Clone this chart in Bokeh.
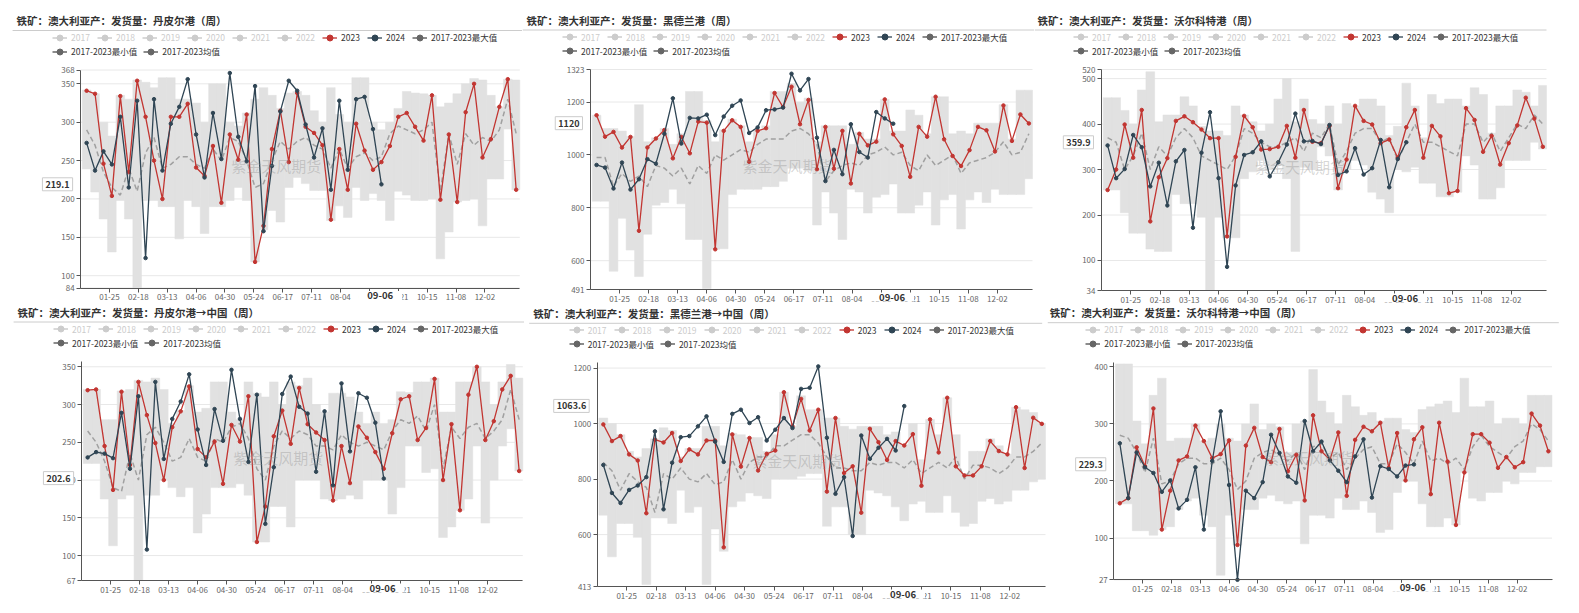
import numpy as np
import pandas as pd
from bokeh.plotting import figure
from bokeh.layouts import column, row
from bokeh.models import Range1d, FixedTicker, Label, Legend, LegendItem, Arrow, ColumnDataSource
from bokeh.embed import file_html
from bokeh.resources import INLINE

FONT = "Noto Sans CJK SC"
RED = "#c23531"
NAVY = "#2f4554"
BAND = "#e1e1e1"
MEAN = "#a0a0a0"
STATICON = "#666666"
INACTIVE = "#cccccc"

# ---------------- shared axis / legend data ----------------
all_days = pd.date_range("2024-01-01", "2024-12-31").strftime("%m-%d").tolist()
week_dates = pd.date_range("2024-01-06", periods=52, freq="7D").strftime("%m-%d").tolist()
tick_labels = ["01-25", "02-18", "03-13", "04-06", "04-30", "05-24", "06-17", "07-11",
               "08-04", "08-28", "09-21", "10-15", "11-08", "12-02"]
pointer_date = "09-06"
legend_years = ["2017", "2018", "2019", "2020", "2021", "2022"]
legend_main = ["2023", "2024"]
legend_stats = ["2017-2023最大值", "2017-2023最小值", "2017-2023均值"]
watermark = "紫金天风期货"

# ---------------- panel 1: 丹皮尔港 ----------------
p1_title = "铁矿：澳大利亚产：发货量：丹皮尔港（周）"
p1_2023 = [341, 337, 246, 204, 334, 235, 354, 307, 250, 200, 307, 307, 324, 241, 230, 269, 195, 284, 251, 310,
           118, 165, 265, 315, 248, 338, 294, 286, 270, 173, 265, 212, 298, 263, 238, 248, 269, 307, 312, 294,
           276, 335, 199, 284, 196, 313, 350, 254, 278, 320, 356, 212]
p1_2024 = [273, 237, 262, 245, 307, 215, 328, 123, 330, 237, 298, 320, 356, 284, 228, 312, 252, 364, 281, 249,
           347, 158, 243, 314, 354, 341, 297, 254, 292, 212, 328, 238, 330, 333, 291, 219]
p1_max = [342, 337, 300, 282, 335, 330, 355, 352, 345, 358, 358, 330, 330, 325, 300, 350, 350, 300, 295, 312,
          330, 345, 335, 318, 338, 340, 335, 315, 300, 345, 310, 300, 358, 358, 300, 290, 300, 318, 340, 338,
          337, 335, 320, 325, 337, 350, 357, 355, 335, 320, 356, 355]
p1_min = [239, 209, 174, 131, 198, 174, 84, 198, 198, 190, 190, 148, 198, 190, 155, 190, 190, 198, 215, 198,
          118, 160, 185, 170, 215, 228, 220, 211, 211, 172, 191, 176, 215, 198, 207, 198, 172, 210, 205, 198,
          198, 200, 122, 157, 196, 198, 200, 165, 226, 226, 291, 212]
p1_mean = [290, 270, 235, 215, 205, 240, 210, 260, 280, 240, 245, 255, 255, 245, 240, 265, 250, 280, 275, 250,
           215, 220, 250, 275, 265, 275, 280, 270, 265, 240, 265, 240, 255, 260, 250, 255, 285, 295, 290, 285,
           290, 300, 210, 285, 245, 285, 270, 280, 275, 290, 330, 285]
p1_yticks = [84, 100, 150, 200, 250, 300, 350, 368]
p1_pointer = 219.1

# ---------------- panel 2: 黑德兰港 ----------------
p2_title = "铁矿：澳大利亚产：发货量：黑德兰港（周）"
p2_2023 = [1150, 1069, 1087, 1028, 1068, 713, 1028, 1062, 1094, 987, 1068, 1006, 1126, 1122, 643, 1091, 1131,
           1106, 974, 1091, 1101, 1234, 1181, 1258, 1116, 1208, 946, 1106, 948, 1091, 892, 1080, 1036, 1050,
           1210, 1078, 1034, 917, 1106, 1069, 1220, 1059, 996, 958, 1018, 1106, 1093, 1013, 1187, 1053, 1153, 1119]
p2_2024 = [962, 952, 873, 971, 869, 908, 984, 967, 1080, 1214, 1043, 1140, 1138, 1152, 1075, 1145, 1186, 1206,
           1083, 1104, 1169, 1172, 1179, 1307, 1244, 1287, 1065, 901, 1019, 927, 1116, 1011, 990, 1162, 1138, 1118]
p2_max = [1150, 1100, 1100, 1090, 1070, 1190, 1050, 1065, 1100, 1040, 1080, 1240, 1240, 1130, 1050, 1095, 1135,
          1110, 1050, 1095, 1110, 1240, 1240, 1270, 1200, 1215, 1050, 1110, 1110, 1110, 1040, 1085, 1060, 1060,
          1210, 1090, 1090, 1170, 1150, 1080, 1220, 1220, 1080, 1090, 1080, 1120, 1120, 1120, 1190, 1060, 1245, 1245]
p2_min = [825, 825, 560, 760, 640, 540, 700, 810, 820, 870, 815, 680, 680, 495, 643, 645, 850, 870, 870, 870,
          880, 880, 900, 950, 950, 940, 735, 860, 780, 680, 870, 860, 780, 840, 850, 890, 780, 780, 810, 860,
          735, 830, 850, 720, 830, 860, 820, 870, 850, 850, 850, 910]
p2_mean = [990, 990, 880, 930, 900, 920, 880, 960, 950, 920, 950, 890, 960, 930, 1000, 980, 1000, 1020, 1010, 1040,
           1060, 1060, 1060, 1090, 1100, 1080, 1040, 900, 940, 960, 970, 960, 1000, 1010, 1030, 1000, 1010, 960,
           940, 1000, 960, 980, 1000, 930, 970, 980, 990, 1010, 1050, 1000, 1010, 1080]
p2_yticks = [491, 600, 800, 1000, 1200, 1323]
p2_pointer = 1120

# ---------------- panel 3: 沃尔科特港 ----------------
p3_title = "铁矿：澳大利亚产：发货量：沃尔科特港（周）"
p3_2023 = [255, 300, 399, 326, 431, 186, 283, 325, 407, 417, 404, 388, 369, 369, 153, 328, 418, 393, 344, 345,
           350, 396, 326, 431, 361, 358, 396, 259, 322, 440, 407, 399, 358, 366, 326, 393, 431, 326, 396, 373,
           248, 253, 435, 409, 339, 374, 311, 358, 397, 458, 412, 350]
p3_2024 = [353, 281, 301, 376, 349, 263, 315, 221, 318, 343, 172, 337, 426, 281, 86, 265, 332, 338, 362, 285,
           316, 355, 423, 362, 363, 356, 398, 288, 296, 347, 289, 303, 365, 261, 323, 360]
p3_max = [458, 458, 430, 400, 475, 515, 405, 420, 420, 460, 440, 395, 385, 385, 375, 440, 420, 405, 385, 400,
          455, 500, 405, 455, 410, 400, 440, 400, 445, 440, 455, 455, 440, 375, 395, 490, 440, 370, 465, 445,
          455, 455, 440, 480, 465, 380, 440, 440, 475, 470, 440, 485]
p3_min = [255, 255, 205, 160, 160, 125, 120, 120, 245, 225, 225, 195, 34, 195, 150, 150, 280, 295, 320, 300,
          310, 280, 120, 305, 300, 350, 330, 255, 300, 320, 310, 250, 235, 205, 300, 295, 305, 270, 270, 240,
          240, 250, 330, 310, 235, 235, 260, 320, 320, 320, 360, 345]
p3_mean = [370, 360, 300, 330, 380, 300, 350, 330, 370, 390, 370, 330, 320, 310, 300, 330, 390, 380, 360, 350,
           350, 360, 370, 340, 380, 370, 400, 310, 340, 380, 390, 390, 360, 370, 320, 360, 400, 360, 360, 350,
           340, 330, 400, 400, 360, 380, 340, 370, 400, 390, 420, 400]
p3_yticks = [34, 100, 200, 300, 400, 500, 520]
p3_pointer = 359.9

# ---------------- panel 4: 丹皮尔港→中国 ----------------
p4_title = "铁矿：澳大利亚产：发货量：丹皮尔港→中国（周）"
p4_2023 = [319, 320, 245, 187, 317, 220, 330, 286, 249, 200, 270, 291, 324, 241, 230, 251, 195, 273, 251, 311,
           118, 165, 258, 292, 248, 322, 274, 263, 253, 173, 245, 196, 271, 256, 237, 215, 262, 307, 311, 253,
           269, 334, 200, 274, 160, 313, 350, 253, 278, 320, 338, 212]
p4_2024 = [230, 237, 235, 229, 289, 215, 311, 108, 330, 228, 281, 304, 340, 267, 220, 294, 252, 346, 281, 224,
           313, 142, 217, 314, 337, 297, 288, 211, 291, 193, 328, 238, 315, 309, 276, 202]
p4_max = [320, 320, 280, 280, 318, 320, 332, 330, 335, 320, 275, 292, 325, 290, 295, 330, 330, 290, 280, 330,
          315, 310, 330, 300, 330, 325, 335, 300, 290, 315, 315, 310, 290, 275, 290, 275, 280, 317, 316, 330,
          330, 335, 290, 290, 330, 330, 350, 330, 300, 330, 353, 335]
p4_min = [222, 222, 175, 113, 175, 180, 67, 180, 180, 200, 190, 178, 190, 130, 155, 190, 190, 190, 195, 180,
          118, 118, 165, 165, 138, 200, 200, 200, 175, 173, 175, 180, 175, 200, 200, 200, 155, 190, 245, 245,
          210, 215, 124, 138, 160, 175, 245, 143, 200, 245, 268, 212]
p4_mean = [265, 250, 225, 190, 185, 235, 200, 260, 270, 250, 225, 230, 255, 230, 225, 255, 250, 270, 275, 255,
           215, 200, 245, 265, 255, 265, 260, 245, 245, 240, 260, 250, 245, 250, 245, 240, 265, 280, 275, 285,
           265, 300, 215, 270, 255, 270, 275, 255, 265, 280, 320, 280]
p4_yticks = [67, 100, 150, 200, 250, 300, 350]
p4_pointer = 202.6

# ---------------- panel 5: 黑德兰港→中国 ----------------
p5_title = "铁矿：澳大利亚产：发货量：黑德兰港→中国（周）"
p5_2023 = [997, 937, 955, 889, 867, 677, 942, 932, 966, 865, 907, 889, 939, 939, 554, 961, 845, 948, 831, 891,
           903, 1113, 990, 1089, 975, 1050, 755, 1020, 822, 846, 679, 981, 933, 869, 937, 921, 962, 776, 1015, 896,
           1093, 846, 813, 813, 846, 937, 901, 889, 1059, 840, 1021, 999]
p5_2024 = [851, 750, 714, 761, 777, 807, 972, 691, 859, 951, 955, 990, 1026, 935, 862, 1035, 1050, 1002, 1023,
           939, 978, 1020, 984, 1125, 1129, 1206, 949, 747, 807, 595, 957, 873, 913, 945, 903, 1063]
p5_max = [1020, 1000, 960, 900, 880, 910, 945, 985, 975, 880, 910, 910, 990, 990, 920, 965, 960, 950, 950, 900,
          960, 1113, 990, 1100, 1050, 1050, 1020, 1020, 990, 980, 990, 990, 990, 960, 970, 925, 1000, 870, 1015,
          960, 1093, 960, 820, 900, 900, 945, 920, 890, 1059, 1050, 1040, 1000]
p5_min = [670, 520, 640, 640, 590, 420, 660, 660, 640, 760, 680, 700, 420, 620, 540, 700, 720, 750, 740, 730,
          800, 800, 800, 810, 820, 820, 630, 700, 700, 600, 600, 760, 750, 740, 700, 650, 710, 720, 680, 680,
          740, 680, 630, 640, 720, 730, 710, 720, 760, 760, 790, 800]
p5_mean = [860, 830, 760, 820, 790, 770, 680, 820, 800, 840, 800, 790, 820, 780, 790, 870, 800, 860, 880, 880,
           920, 920, 940, 960, 960, 930, 880, 840, 840, 830, 830, 860, 850, 860, 860, 840, 870, 820, 840, 860,
           840, 880, 800, 850, 850, 840, 820, 840, 880, 880, 900, 930]
p5_yticks = [413, 600, 800, 1000, 1200]
p5_pointer = 1063.6

# ---------------- panel 6: 沃尔科特港→中国 ----------------
p6_title = "铁矿：澳大利亚产：发货量：沃尔科特港→中国（周）"
p6_2023 = [161, 170, 259, 226, 327, 115, 183, 236, 243, 297, 270, 240, 247, 271, 88, 262, 293, 242, 233, 291,
           217, 246, 166, 315, 252, 237, 285, 174, 272, 295, 287, 302, 223, 284, 201, 273, 294, 177, 302, 234,
           123, 215, 282, 282, 267, 223, 242, 224, 233, 318, 297, 252]
p6_2024 = [266, 170, 250, 224, 214, 181, 201, 152, 167, 224, 115, 235, 322, 193, 27, 183, 170, 198, 281, 249,
           208, 197, 305, 252, 269, 236, 218, 198, 243, 273, 171, 226, 221, 208, 227, 229]
p6_max = [405, 405, 305, 265, 350, 380, 270, 275, 275, 300, 270, 275, 300, 275, 270, 300, 335, 290, 300, 295,
          250, 300, 305, 395, 340, 320, 300, 350, 330, 315, 320, 305, 310, 310, 290, 285, 325, 330, 335, 340,
          320, 380, 330, 330, 340, 300, 310, 310, 300, 350, 350, 350]
p6_min = [160, 160, 113, 113, 105, 115, 120, 150, 165, 170, 140, 120, 35, 140, 88, 150, 150, 170, 175, 165,
          160, 165, 90, 140, 140, 135, 170, 150, 150, 165, 145, 110, 115, 180, 200, 200, 160, 120, 120, 135,
          123, 215, 170, 165, 180, 180, 200, 195, 215, 215, 225, 225]
p6_mean = [280, 275, 250, 215, 275, 195, 200, 230, 240, 240, 230, 230, 240, 220, 185, 200, 240, 250, 255, 245,
           235, 250, 220, 260, 265, 240, 250, 220, 240, 255, 260, 230, 230, 265, 250, 230, 270, 235, 240, 230,
           240, 220, 260, 280, 260, 250, 240, 260, 270, 300, 290, 270]
p6_yticks = [27, 100, 200, 300, 400]
p6_pointer = 229.3

week_x = np.array([all_days.index(d) for d in week_dates], dtype=float)
tick_x = [all_days.index(d) for d in tick_labels]
pointer_x = all_days.index(pointer_date)
X_LO, X_HI = 0, 365


def fmt(v):
    s = ("%.1f" % v)
    return s[:-2] if s.endswith(".0") else s


def make_panel(title, v23, v24, vmax, vmin, vmean, yticks, yrange, ptr, W, H, bl, br, bt, bb):
    ylo, yhi = yrange
    fw = W - bl - br          # plot-area size in px
    fh = H - bt - bb
    ppx = fw / (X_HI - X_LO)
    ppy = fh / (yhi - ylo)
    # the frame is the whole figure; the axes are pinned to the plot-area edges
    p = figure(width=W, height=H,
               x_range=Range1d(X_LO - bl / ppx, X_HI + br / ppx),
               y_range=Range1d(ylo - bb / ppy, yhi + bt / ppy),
               output_backend="svg", toolbar_location=None,
               min_border_left=0, min_border_right=0, min_border_top=0, min_border_bottom=0)
    p.outline_line_color = None
    p.xgrid.visible = False
    p.ygrid.visible = False
    for ax in (p.xaxis[0], p.yaxis[0]):
        ax.axis_line_color = "#555555"
        ax.major_tick_line_color = "#555555"
        ax.major_tick_out = 4
        ax.major_tick_in = 0
        ax.minor_tick_out = 0
        ax.minor_tick_in = 0
        ax.major_label_text_font = FONT
        ax.major_label_text_font_size = "8px"
        ax.major_label_text_color = "#666666"
        ax.major_label_standoff = 2
    p.yaxis.ticker = FixedTicker(ticks=yticks)
    p.yaxis.fixed_location = X_LO
    p.yaxis.bounds = (ylo, yhi)
    p.xaxis.ticker = FixedTicker(ticks=tick_x)
    p.xaxis.major_label_overrides = {x: lab for x, lab in zip(tick_x, tick_labels)}
    p.xaxis.fixed_location = ylo
    p.xaxis.bounds = (X_LO, X_HI)

    # horizontal grid lines at the y ticks, across the plot area only
    p.segment(x0=[X_LO] * len(yticks), x1=[X_HI] * len(yticks), y0=yticks, y1=yticks,
              line_color="#e8e8e8", line_width=1)

    band = ColumnDataSource(dict(l=np.clip(week_x - 3.6, X_LO, X_HI), r=np.clip(week_x + 3.6, X_LO, X_HI),
                                 b=vmin, t=vmax))
    p.quad(left="l", right="r", bottom="b", top="t", source=band,
           fill_color=BAND, line_color=BAND, line_width=0.5)
    p.line(week_x, vmean, line_color=MEAN, line_width=1.5, line_dash="5 3")

    # watermark
    p.add_layout(Label(x=bl + fw / 2 - 24, y=bb + fh / 2 + 14, x_units="screen", y_units="screen",
                       text=watermark, text_align="center", text_baseline="middle",
                       text_font=FONT, text_font_size="15px", text_color="#8a8a8a",
                       text_alpha=0.35))

    n24 = len(v24)
    r23l = p.line(week_x, v23, line_color=RED, line_width=1.3)
    r23s = p.scatter(week_x, v23, size=3.5, fill_color=RED, line_color=RED)
    r24l = p.line(week_x[:n24], v24, line_color=NAVY, line_width=1.3)
    r24s = p.scatter(week_x[:n24], v24, size=3.5, fill_color=NAVY, line_color=NAVY)

    def dummy(color):
        src = ColumnDataSource(dict(x=np.array([np.nan]), y=np.array([np.nan])))
        return [p.line("x", "y", source=src, line_color=color, line_width=1.5),
                p.scatter("x", "y", source=src, size=6, fill_color=color, line_color=color)]

    common = dict(orientation="horizontal", glyph_width=15, glyph_height=15, label_standoff=4,
                  spacing=6, padding=0, margin=0, label_text_font=FONT, label_text_font_size="8.5px",
                  label_width=20, label_height=15, background_fill_alpha=0, border_line_alpha=0)
    top = bb + fh
    leg_x = bl - 28
    y1 = top + 32.5 - 7.5
    y2 = top + 18.5 - 7.5
    legA = Legend(items=[LegendItem(label=t, renderers=dummy(INACTIVE)) for t in legend_years],
                  location=(leg_x, y1), label_text_color=INACTIVE, **common)
    legB = Legend(items=[LegendItem(label=legend_main[0], renderers=[r23l, r23s]),
                         LegendItem(label=legend_main[1], renderers=[r24l, r24s]),
                         LegendItem(label=legend_stats[0], renderers=dummy(STATICON))],
                  location=(leg_x + 270, y1), label_text_color="#333333", **common)
    legC = Legend(items=[LegendItem(label=legend_stats[1], renderers=dummy(STATICON)),
                         LegendItem(label=legend_stats[2], renderers=dummy(STATICON))],
                  location=(leg_x, y2), label_text_color="#333333", **common)
    for lg in (legA, legB, legC):
        p.add_layout(lg)

    # title + rule
    p.add_layout(Label(x=bl - 64, y=top + 49.5, x_units="screen", y_units="screen", text=title,
                       text_font=FONT, text_font_size="10.5px", text_font_style="bold",
                       text_color="#333333", text_baseline="middle", text_align="left"))
    p.add_layout(Arrow(end=None, x_start=max(bl - 68, 0), y_start=top + 39.5,
                       x_end=min(bl + 445, W), y_end=top + 39.5,
                       start_units="screen", end_units="screen", line_color="#cccccc", line_width=1))

    # axis pointer labels
    p.add_layout(Label(x=bl - 8, y=ptr, x_units="screen", y_units="data", text=fmt(ptr),
                       text_align="right", text_baseline="middle", text_font=FONT,
                       text_font_size="9px", text_font_style="bold", text_color="#333333",
                       background_fill_color="white", border_line_color="#cccccc", padding=3))
    p.add_layout(Label(x=pointer_x, y=bb - 3, x_units="data", y_units="screen", text=pointer_date,
                       text_align="center", text_baseline="top", text_font=FONT,
                       text_font_size="9.5px", text_font_style="bold", text_color="#333333",
                       background_fill_color="white",
                       padding=dict(left=9, right=9, top=1, bottom=1)))
    return p


f1 = make_panel(p1_title, p1_2023, p1_2024, p1_max, p1_min, p1_mean, p1_yticks, (84, 368), p1_pointer,
                522, 305, 80.1, 2.7, 69.5, 17.5)
f2 = make_panel(p2_title, p2_2023, p2_2024, p2_max, p2_min, p2_mean, p2_yticks, (491, 1323), p2_pointer,
                512, 305, 68, 2, 69, 16)
f3 = make_panel(p3_title, p3_2023, p3_2024, p3_max, p3_min, p3_mean, p3_yticks, (34, 520), p3_pointer,
                545, 305, 67, 33, 69, 15)
f4 = make_panel(p4_title, p4_2023, p4_2024, p4_max, p4_min, p4_mean, p4_yticks, (67, 357), p4_pointer,
                524, 308, 81.1, 1.7, 56, 33)
f5 = make_panel(p5_title, p5_2023, p5_2024, p5_max, p5_min, p5_mean, p5_yticks, (413, 1219), p5_pointer,
                523, 308, 72.7, 2, 57.3, 27)
f6 = make_panel(p6_title, p6_2023, p6_2024, p6_max, p6_min, p6_mean, p6_yticks, (27, 408), p6_pointer,
                532, 308, 66.3, 27.5, 56.7, 33.7)

layout = column(row(f1, f2, f3), row(f4, f5, f6))
open("out.html", "w").write(file_html(layout, INLINE))
